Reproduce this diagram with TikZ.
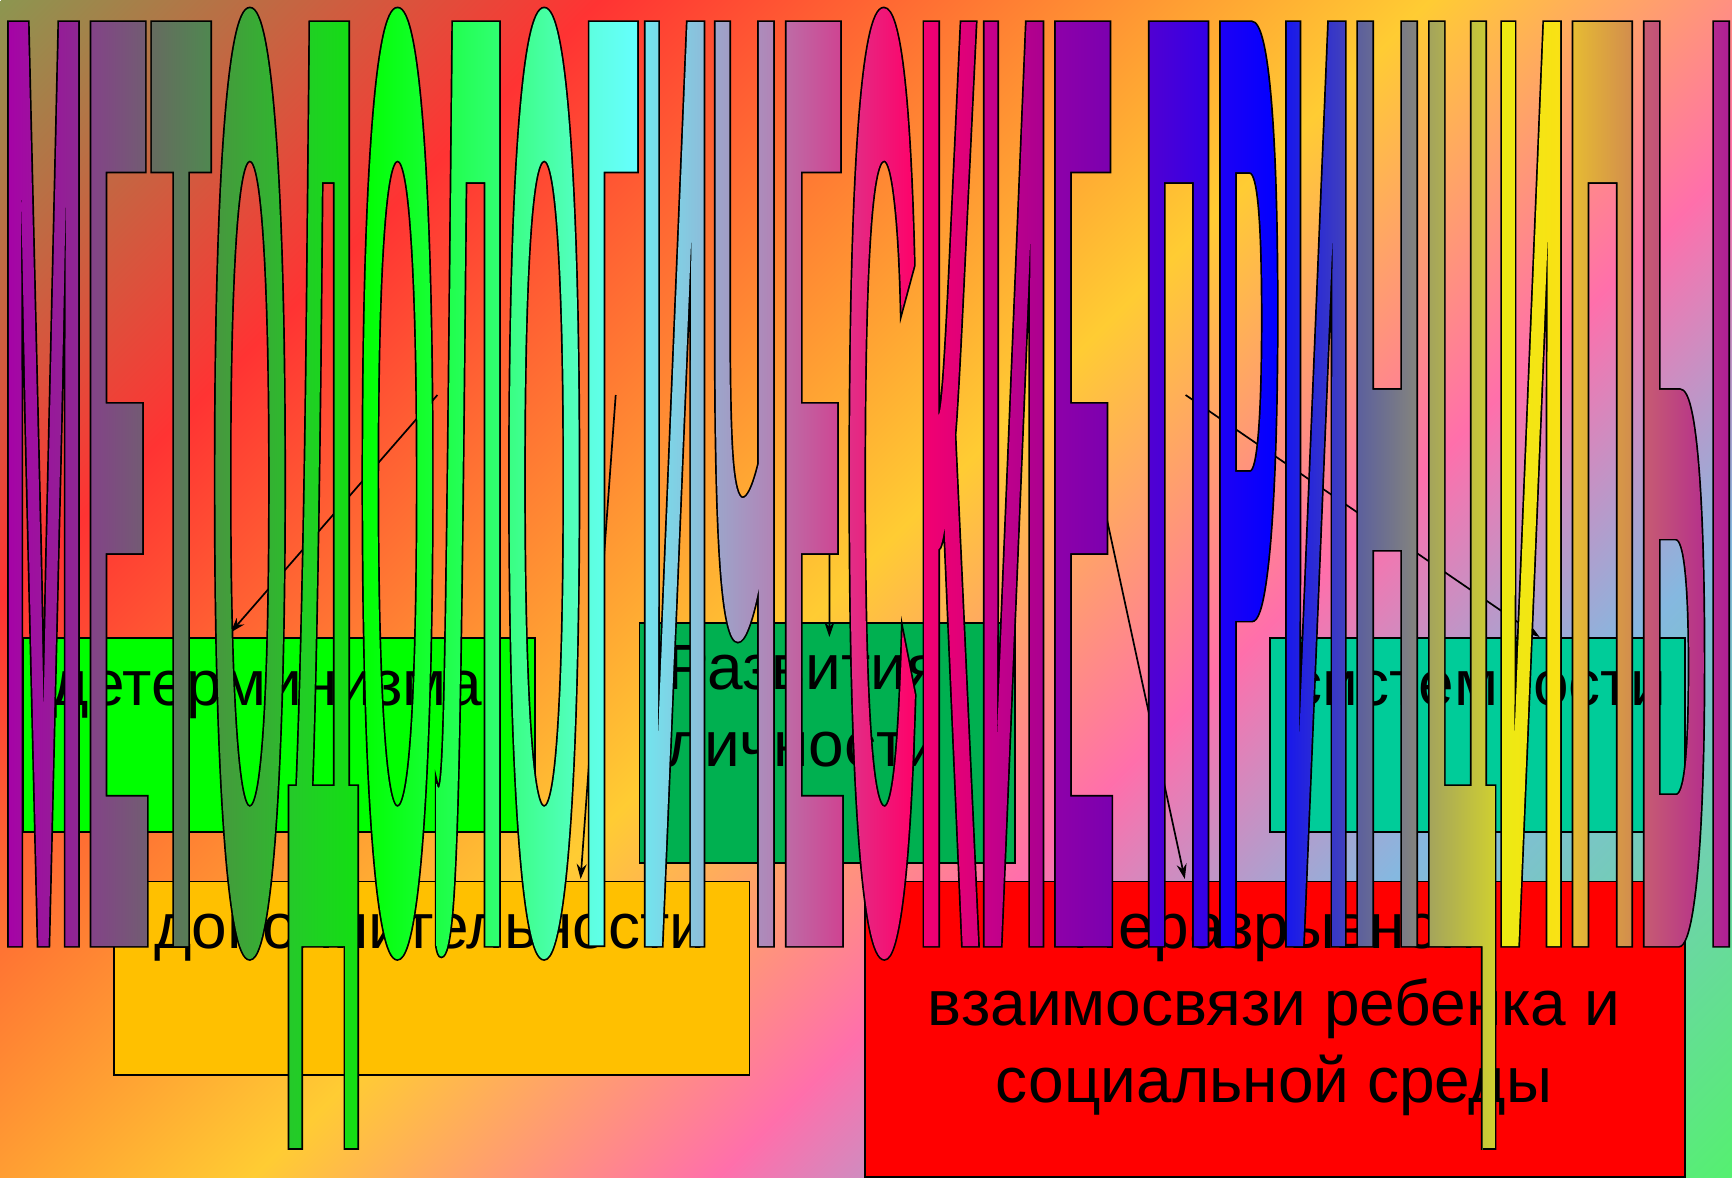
\documentclass[tikz,border=0pt]{standalone}
\usepackage{fontspec}
\setmainfont{Liberation Sans}
\newfontface\wordfont[FakeStretch=0.0738]{Liberation Sans Bold}
\usetikzlibrary{arrows.meta,positioning}

\definecolor{bgolive}{HTML}{8C9650}
\definecolor{bgred}{HTML}{FF3333}
\definecolor{bgyellow}{HTML}{FFCC33}
\definecolor{bgpink}{HTML}{FF6FAB}
\definecolor{bgblue}{HTML}{85B8E0}
\definecolor{bggreen}{HTML}{55F070}
\definecolor{detfill}{HTML}{00FF00}
\definecolor{devfill}{HTML}{00B050}
\definecolor{dopfill}{HTML}{FFC000}
\definecolor{sysfill}{HTML}{00CC99}
\pgfdeclarehorizontalshading{bgrainbow}{2600bp}{color(0bp)=(bgolive);
  color(424bp)=(bgred); color(1011bp)=(bgyellow); color(1340bp)=(bgpink);
  color(1605bp)=(bgblue); color(2057bp)=(bggreen)}

\newlength\wordw
\newcommand{\wordlet}[4][]{\setbox0\hbox{#2}\setlength\wordw{\wd0}%
  \definecolor{wordl}{HTML}{#3}\definecolor{wordr}{HTML}{#4}%
  \special{pdf:code q #1 3.4 w 5 Tr}\rlap{#2}\special{pdf:code 0 Tr}%
  \rlap{\begin{tikzpicture}[overlay]
    \shade[left color=wordl, right color=wordr] (0pt,-400pt) rectangle (\wordw,1100pt);
  \end{tikzpicture}}%
  \special{pdf:code Q}\hskip\wordw}
\newcommand{\legcut}{-500 -131 3000 2500 re W n}

\begin{document}
\begin{tikzpicture}[x=1bp, y=-1bp,
  box/.style={draw, line width=1.5bp, anchor=north west, inner sep=0pt},
  txt/.style={font=\fontsize{64bp}{77bp}\selectfont, align=center, inner sep=0pt},
  link/.style={-{Stealth[length=15bp,width=10bp]}, line width=1.7bp},
  foot/.style={line width=1.7bp}]
\useasboundingbox (0,0) rectangle (1732,1177);
\node[rotate=-45, anchor=west, inner sep=0pt] (bg) at (0,0) {\pgfuseshading{bgrainbow}};

\node[box, fill=detfill, minimum width=512bp, minimum height=194bp] (det) at (22,637) {};
\node[box, fill=devfill, minimum width=375.4bp, minimum height=240bp] (dev) at (638.6,622) {};
\node[box, fill=dopfill, minimum width=635.5bp, minimum height=193.5bp] (dop) at (113,880.5) {};
\node[box, fill=red, minimum width=820bp, minimum height=295.5bp] (ner) at (864,880.5) {};
\node[box, fill=sysfill, minimum width=415bp, minimum height=194bp] (sys) at (1269,637) {};

\node[txt, anchor=base] (detlbl) at (267,705.7) {детерминизма};
\node[txt] (devlbl) at (804,706) {Развития\\личности};
\node[txt, anchor=base] (doplbl) at (430,948.6) {дополнительности};
\node[txt] (nerlbl) at (1274,1008) {Неразрывной\\взаимосвязи ребенка и\\социальной среды};
\node[txt, anchor=base] (syslbl) at (1478,705.7) {системности};

\coordinate (from1) at (437.4,395);
\coordinate (from2) at (615.7,395);
\coordinate (from3) at (829.5,420);
\coordinate (from4) at (1085.4,420);
\coordinate (from5) at (1185.6,395);
\draw[link] (from1) -- ([xshift=208.6bp,yshift=4.5bp]det.north west);
\draw[link] (from2) -- ([xshift=467.6bp,yshift=1.5bp]dop.north west);
\draw[link] (from3) -- ([xshift=190.8bp,yshift=-15bp]dev.north west);
\draw[link] (from4) -- ([xshift=320.8bp,yshift=1.5bp]ner.north west);
\draw[link] (from5) -- ([xshift=270.6bp]sys.north west);

\node[anchor=base west, inner sep=0pt, font=\wordfont\fontsize{1348pt}{1348pt}\selectfont] (word) at (2,946) {%
\wordlet{М}{A800A8}{8C2A90}\wordlet{Е}{85408A}{705F70}\wordlet{Т}{666B60}{4F8850}%
\wordlet{О}{48963F}{2DBA2D}\wordlet[\legcut]{Д}{25C92A}{12E012}\wordlet{О}{00FF00}{18FF38}%
\wordlet{Л}{1CFF44}{33FF77}\wordlet{О}{38FF80}{55FFC5}\wordlet{Г}{5CFFDC}{66FFFF}%
\wordlet{И}{70E8F0}{90B8D8}\wordlet{Ч}{9AA8CC}{B480B4}\wordlet{Е}{BC70A8}{D04090}%
\wordlet{С}{E03088}{FF0068}\wordlet{К}{F50070}{D8007C}\wordlet{И}{CC0088}{A80090}%
\wordlet{Е}{9000A8}{7A00B0} \wordlet{П}{5400D0}{3000E8}\wordlet{Р}{2000F4}{0000FF}%
\wordlet{И}{1414F0}{4444B8}\wordlet{Н}{585CA0}{88887A}\wordlet[\legcut]{Ц}{A0A060}{D0D030}%
\wordlet{И}{EBEB12}{FBE015}\wordlet{П}{E8C030}{D08850}\wordlet{Ы}{C86070}{AD1A98}};
\draw[foot] (288.2,1149) -- (302.7,1149) (344.7,1149) -- (358.7,1149) (1483.2,1149) -- (1496.2,1149);
\end{tikzpicture}
\end{document}
